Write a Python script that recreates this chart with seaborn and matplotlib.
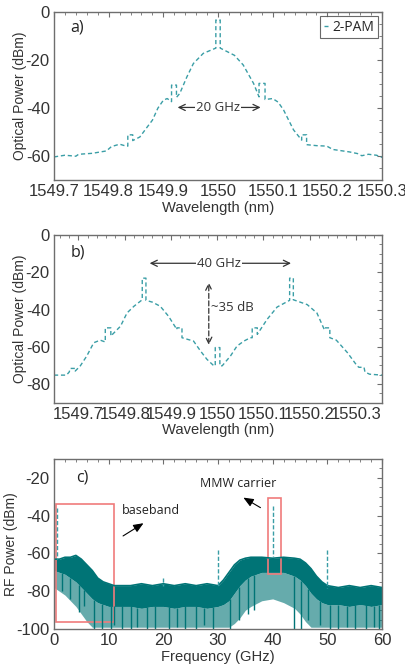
import matplotlib
matplotlib.use("Agg")
import matplotlib.pyplot as plt
import numpy as np
import pandas as pd
import seaborn as sns
from matplotlib.patches import Rectangle
from matplotlib.ticker import AutoMinorLocator

# ---- panel a: single 2-PAM optical spectrum ----
wl_a = [1549.700, 1549.720, 1549.740, 1549.745, 1549.770, 1549.796, 1549.805, 1549.820,
        1549.832, 1549.835, 1549.835, 1549.844, 1549.844, 1549.857, 1549.870, 1549.880,
        1549.890, 1549.900, 1549.907, 1549.915, 1549.915, 1549.924, 1549.924, 1549.930,
        1549.943, 1549.955, 1549.973, 1549.996, 1549.996, 1550.004, 1550.004, 1550.030,
        1550.046, 1550.065, 1550.075, 1550.075, 1550.086, 1550.086, 1550.100, 1550.110,
        1550.120, 1550.138, 1550.153, 1550.153, 1550.162, 1550.162, 1550.180, 1550.199,
        1550.210, 1550.240, 1550.255, 1550.263, 1550.275, 1550.290, 1550.300]
pw_a = [-60.3, -59.6, -60.0, -59.2, -58.8, -57.8, -56.0, -55.0,
        -55.8, -55.8, -51.1, -51.1, -53.5, -52.0, -48.0, -45.0,
        -40.0, -36.7, -36.0, -37.3, -30.4, -30.4, -35.5, -33.9,
        -27.0, -21.4, -17.2, -15.0, -3.3, -3.3, -15.0, -18.0,
        -22.0, -29.7, -35.3, -29.7, -29.7, -36.4, -36.0, -37.5,
        -40.8, -49.0, -53.3, -51.1, -51.1, -55.2, -55.6, -55.8,
        -57.2, -58.2, -58.9, -59.8, -59.2, -59.6, -60.5]

# ---- panel b: two-tone (40 GHz spaced) optical spectrum ----
wl_b = [1549.647, 1549.674, 1549.680, 1549.682, 1549.693, 1549.693, 1549.704, 1549.718,
        1549.733, 1549.747, 1549.758, 1549.758, 1549.770, 1549.770, 1549.791, 1549.805,
        1549.820, 1549.838, 1549.838, 1549.846, 1549.846, 1549.860, 1549.877, 1549.895,
        1549.913, 1549.913, 1549.924, 1549.924, 1549.949, 1549.964, 1549.978, 1549.993,
        1549.996, 1549.996, 1550.006, 1550.006, 1550.011, 1550.029, 1550.043, 1550.058,
        1550.072, 1550.076, 1550.076, 1550.087, 1550.087, 1550.108, 1550.130, 1550.157,
        1550.157, 1550.165, 1550.165, 1550.195, 1550.216, 1550.232, 1550.232, 1550.244,
        1550.244, 1550.258, 1550.282, 1550.303, 1550.307, 1550.318, 1550.320, 1550.330,
        1550.357]
pw_b = [-75.2, -75.2, -73.5, -71.6, -71.6, -73.0, -70.2, -64.9,
        -57.8, -56.4, -57.4, -49.8, -49.8, -54.2, -48.9, -41.8,
        -38.2, -34.7, -23.1, -23.1, -35.0, -36.0, -38.2, -43.6,
        -50.7, -49.8, -49.8, -55.1, -56.9, -62.2, -66.7, -70.2,
        -70.2, -60.4, -60.4, -70.2, -70.2, -64.9, -59.6, -56.9,
        -55.1, -55.1, -49.8, -49.8, -53.3, -45.3, -38.6, -35.0,
        -23.1, -23.1, -34.7, -37.3, -41.8, -50.7, -49.8, -49.8,
        -55.1, -56.4, -63.1, -70.2, -71.0, -71.0, -73.5, -74.7,
        -75.2]

wl_ticks = [1549.7, 1549.8, 1549.9, 1550.0, 1550.1, 1550.2, 1550.3]
wl_ticklabels = ["1549.7", "1549.8", "1549.9", "1550", "1550.1", "1550.2", "1550.3"]

# ---- panel c: RF spectrum (noise band envelopes + spikes) ----
rf_freq = [0, 1, 2, 3, 4, 5, 6, 7, 8, 9, 10, 11, 12,
           14, 16, 18, 20, 22, 24, 26, 28, 30,
           31, 32, 33, 34, 35, 36, 38, 40, 42, 44,
           45, 46, 47, 48, 49, 50, 52, 54, 56, 58, 60]
# upper edge of the noise band
rf_top = [-63, -63, -62, -62, -61, -63, -66, -69, -73, -75, -76, -77, -77,
          -77, -76, -77, -76, -77, -76, -77, -76, -77,
          -74, -70, -66, -63.5, -62.5, -62, -62, -62.5, -62, -62.5,
          -63, -65, -68, -72, -75, -77, -78, -77, -78, -77, -78]
# lower edge of the solid part
rf_mid = [-69, -70, -71, -73, -75, -78, -81, -84, -86, -87, -88, -88, -88,
          -88, -89, -88, -88, -89, -88, -88, -89, -88,
          -87, -85, -81, -77, -74, -72, -70, -70, -70, -72,
          -74, -77, -81, -84, -86, -87, -87, -88, -87, -88, -87]
# lowest reach of the sparse streaks
rf_floor = [-78, -80, -82, -85, -88, -92, -96, -99, -99, -99, -99, -99, -99,
            -99, -99, -99, -99, -99, -99, -99, -99, -99,
            -99, -99, -97, -94, -90, -88, -85, -84, -86, -89,
            -92, -96, -99, -99, -99, -99, -99, -99, -99, -99, -99]
dip_freq = [1.5, 3.0, 4.5, 5.5, 7.3, 8.8, 10.4, 11.0, 12.5, 14.0, 15.2, 17.0, 18.5,
            21.0, 22.5, 24.0, 26.0, 27.5, 29.0, 32.2, 33.8, 35.5, 36.5, 43.9, 45.2,
            46.5, 48.6, 50.5, 52.0, 53.5, 55.0, 57.0, 58.5, 59.5]
dip_level = [-80, -84, -91, -88, -100, -100, -100, -98, -100, -100, -99, -100, -100,
             -100, -99, -100, -100, -98, -100, -100, -95, -92, -90, -100, -100,
             -95, -98, -100, -100, -99, -100, -100, -99, -100]
spike_freq = [0.5, 20, 30, 40, 50]
spike_base = [-63, -77, -77, -62, -78]
spike_level = [-36, -73, -58, -35, -58]

LINE = "#3a9ea6"
FILL = "#007476"
AX = "#6e6e6e"
TXT = "#333333"

sns.set_style("white")
plt.rcParams["font.family"] = ["Liberation Sans", "DejaVu Sans"]
plt.rcParams["axes.unicode_minus"] = False
ann_font = ["Open Sans", "DejaVu Sans"]

fig = plt.figure(figsize=(4.06, 6.70), dpi=100)
ax_a = fig.add_axes([0.133, 0.731, 0.808, 0.251])
ax_b = fig.add_axes([0.133, 0.399, 0.808, 0.250])
ax_c = fig.add_axes([0.133, 0.061, 0.808, 0.254])


def style_axes(ax):
    for sp in ax.spines.values():
        sp.set_color(AX)
        sp.set_linewidth(1.0)
    ax.xaxis.set_minor_locator(AutoMinorLocator(5))
    ax.yaxis.set_minor_locator(AutoMinorLocator(4))
    ax.tick_params(which="both", direction="in", top=True, right=True,
                   color=AX, labelcolor=TXT, labelsize=12, pad=3)
    ax.tick_params(which="major", length=3.5, width=0.8)
    ax.tick_params(which="minor", length=2, width=0.6)


dash = (0, (3, 2))

# panel a
df_a = pd.DataFrame({"wl": wl_a, "p": pw_a})
sns.lineplot(data=df_a, x="wl", y="p", ax=ax_a, sort=False, estimator=None,
             color=LINE, lw=1.0, linestyle=dash, label="2-PAM")
ax_a.set_xlim(1549.7, 1550.3)
ax_a.set_ylim(-70, 0)
ax_a.set_yticks([0, -20, -40, -60])
ax_a.set_xticks(wl_ticks)
ax_a.set_xticklabels(wl_ticklabels)
ax_a.set_xlabel("Wavelength (nm)", fontsize=10.6, color=TXT, labelpad=1)
ax_a.set_ylabel("Optical Power (dBm)", fontsize=10, color=TXT, labelpad=-1)
style_axes(ax_a)
leg = ax_a.legend(loc="upper right", handlelength=0.35, handletextpad=0.3,
                  borderpad=0.25, borderaxespad=0.3, fancybox=False,
                  prop={"family": ann_font, "size": 10})
leg.get_frame().set_edgecolor("#444444")
leg.get_frame().set_linewidth(0.8)
ax_a.text(1549.73, -6.5, "a)", fontsize=11.5, family=ann_font, color="#222222",
          va="center")
ax_a.annotate("", xy=(1549.921, -39.7), xytext=(1550.083, -39.7),
              arrowprops=dict(arrowstyle="<->,head_length=0.45,head_width=0.22",
                              color=TXT, lw=0.9))
ax_a.text(1550.0, -39.7, "20 GHz", fontsize=9.5, family=ann_font, color=TXT,
          ha="center", va="center",
          bbox=dict(facecolor="white", edgecolor="none", pad=0.5))

# panel b
df_b = pd.DataFrame({"wl": wl_b, "p": pw_b})
sns.lineplot(data=df_b, x="wl", y="p", ax=ax_b, sort=False, estimator=None,
             color=LINE, lw=1.0, linestyle=dash)
ax_b.set_xlim(1549.647, 1550.357)
ax_b.set_ylim(-90, 0)
ax_b.set_yticks([0, -20, -40, -60, -80])
ax_b.set_xticks(wl_ticks)
ax_b.set_xticklabels(wl_ticklabels)
ax_b.set_xlabel("Wavelength (nm)", fontsize=10.6, color=TXT, labelpad=1)
ax_b.set_ylabel("Optical Power (dBm)", fontsize=10, color=TXT, labelpad=-1)
style_axes(ax_b)
ax_b.text(1549.682, -9.5, "b)", fontsize=11.5, family=ann_font, color="#222222",
          va="center")
ax_b.annotate("", xy=(1549.848, -15.1), xytext=(1550.166, -15.1),
              arrowprops=dict(arrowstyle="<->,head_length=0.45,head_width=0.22",
                              color=TXT, lw=0.9))
ax_b.text(1550.004, -15.1, "40 GHz", fontsize=9.5, family=ann_font, color=TXT,
          ha="center", va="center",
          bbox=dict(facecolor="white", edgecolor="none", pad=0.5))
ax_b.annotate("", xy=(1549.982, -24), xytext=(1549.982, -60.4),
              arrowprops=dict(arrowstyle="<->,head_length=0.45,head_width=0.22",
                              color=TXT, lw=0.9, linestyle=(0, (4, 2))))
ax_b.text(1549.987, -39.1, "~35 dB", fontsize=9.5, family=ann_font, color=TXT,
          ha="left", va="center")

# panel c
df_c = pd.DataFrame({"f": rf_freq, "top": rf_top, "mid": rf_mid, "floor": rf_floor})
ax_c.fill_between(df_c["f"], df_c["floor"], df_c["mid"], color=FILL, lw=0, alpha=0.6)
ax_c.fill_between(df_c["f"], df_c["mid"], df_c["top"], color=FILL, lw=0)
sns.lineplot(data=df_c, x="f", y="top", ax=ax_c, color=FILL, lw=1.2, estimator=None)
dip_top = np.interp(dip_freq, rf_freq, rf_mid)
ax_c.vlines(dip_freq, dip_level, dip_top, color=FILL, lw=1.0)
ax_c.vlines(spike_freq, spike_level, spike_base, color=LINE, lw=1.0,
            linestyles=(0, (3, 1.5)))
ax_c.set_xlim(0, 60)
ax_c.set_ylim(-100, -10)
ax_c.set_yticks([-20, -40, -60, -80, -100])
ax_c.set_xticks([0, 10, 20, 30, 40, 50, 60])
ax_c.set_xlabel("Frequency (GHz)", fontsize=10.6, color=TXT, labelpad=1)
ax_c.set_ylabel("RF Power (dBm)", fontsize=10, color=TXT, labelpad=-1)
style_axes(ax_c)
box_col = "#f07b7b"
ax_c.add_patch(Rectangle((0.4, -96.3), 10.6, 62.3, fill=False, ec=box_col, lw=1.2))
ax_c.add_patch(Rectangle((39.1, -71.0), 2.5, 40.1, fill=False, ec=box_col, lw=1.2))
ax_c.text(4.0, -20, "c)", fontsize=11.5, family=ann_font, color="#222222", va="center")
ax_c.text(12.4, -37, "baseband", fontsize=9, family=ann_font, color="#222222",
          ha="left", va="center")
ax_c.annotate("", xy=(16.8, -43.2), xytext=(12.2, -51.5),
              arrowprops=dict(arrowstyle="-|>,head_length=0.6,head_width=0.25",
                              color="black", lw=0.8))
ax_c.text(33.7, -23, "MMW carrier", fontsize=9, family=ann_font, color="#222222",
          ha="center", va="center")
ax_c.annotate("", xy=(34.2, -29.7), xytext=(38.2, -36.5),
              arrowprops=dict(arrowstyle="-|>,head_length=0.6,head_width=0.25",
                              color="black", lw=0.8))

fig.savefig("out.png", dpi=100)
